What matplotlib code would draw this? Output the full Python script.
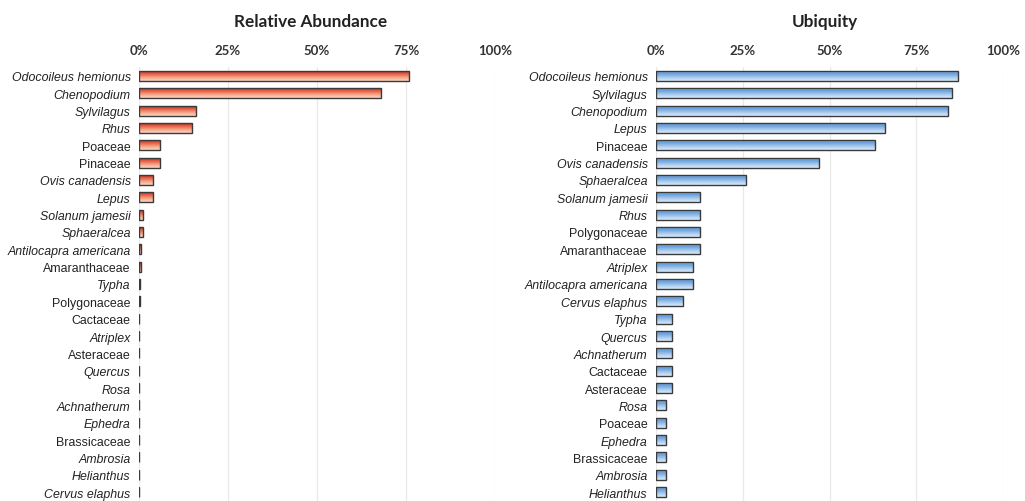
import numpy as np
import matplotlib
matplotlib.use("Agg")
import matplotlib.pyplot as plt
from matplotlib.colors import LinearSegmentedColormap

# relative abundance (%)
ab_names = ["Odocoileus hemionus", "Chenopodium", "Sylvilagus", "Rhus", "Poaceae",
            "Pinaceae", "Ovis canadensis", "Lepus", "Solanum jamesii", "Sphaeralcea",
            "Antilocapra americana", "Amaranthaceae", "Typha", "Polygonaceae", "Cactaceae",
            "Atriplex", "Asteraceae", "Quercus", "Rosa", "Achnatherum", "Ephedra",
            "Brassicaceae", "Ambrosia", "Helianthus", "Cervus elaphus"]
ab_vals = [75.9, 68.0, 16.0, 14.9, 5.9, 5.9, 3.8, 3.8, 1.0, 1.0, 0.5, 0.5, 0.3, 0.3,
           0.1, 0.1, 0.1, 0.1, 0.1, 0.1, 0.1, 0.1, 0.1, 0.1, 0.1]

# ubiquity (%)
ub_names = ["Odocoileus hemionus", "Sylvilagus", "Chenopodium", "Lepus", "Pinaceae",
            "Ovis canadensis", "Sphaeralcea", "Solanum jamesii", "Rhus", "Polygonaceae",
            "Amaranthaceae", "Atriplex", "Antilocapra americana", "Cervus elaphus", "Typha",
            "Quercus", "Achnatherum", "Cactaceae", "Asteraceae", "Rosa", "Poaceae",
            "Ephedra", "Brassicaceae", "Ambrosia", "Helianthus"]
ub_vals = [87.0, 85.2, 84.1, 66.1, 63.1, 47.0, 26.0, 12.8, 12.8, 12.8, 12.8, 10.7, 10.7,
           7.8, 4.7, 4.7, 4.7, 4.7, 4.7, 2.9, 2.9, 2.9, 2.9, 2.9, 2.9]

ticks = [0, 25, 50, 75, 100]
tick_labels = ["0%", "25%", "50%", "75%", "100%"]

red_cmap = LinearSegmentedColormap.from_list("r", ["#a82216", "#e55a44", "#f4a384", "#fbd6c4"])
blue_cmap = LinearSegmentedColormap.from_list("b", ["#86b5e6", "#6aa2dd", "#a9cbee", "#dcebfa"])

W, H = 1025, 502
fig = plt.figure(figsize=(W / 100, H / 100), dpi=100)


def panel(rect, names, vals, cmap, title, title_x):
    ax = fig.add_axes(rect)
    y = np.arange(len(names))
    bars = ax.barh(y, vals, height=0.58, color="none", edgecolor="#3a3a3a",
                   linewidth=1.0, zorder=3)
    grad = np.linspace(0, 1, 64).reshape(-1, 1)
    for b in bars:
        x0, y0 = b.get_x(), b.get_y()
        w, h = b.get_width(), b.get_height()
        im = ax.imshow(grad, cmap=cmap, aspect="auto", extent=(x0, x0 + w, y0 + h, y0),
                       zorder=2, interpolation="bilinear")
        im.set_clip_path(b)
    ax.set_xlim(0, 100)
    ax.set_ylim(len(names) - 0.5, -0.5)
    ax.set_xticks(ticks)
    ax.set_xticklabels(tick_labels, family="Lato", fontweight="bold", fontsize=9.5,
                       color="#333333")
    ax.xaxis.tick_top()
    ax.tick_params(axis="x", length=0, pad=8)
    ax.set_yticks(y)
    ax.set_yticklabels(names, family="Liberation Sans", fontsize=8.9, color="#222222")
    for lab in ax.get_yticklabels():
        if not lab.get_text().endswith("aceae"):
            lab.set_style("italic")
    ax.tick_params(axis="y", length=0, pad=6)
    ax.grid(axis="x", color="#e9e9e9", linewidth=0.9, zorder=0)
    for s in ax.spines.values():
        s.set_visible(False)
    fig.text(title_x, 1 - 22 / H, title, family="Lato", fontweight="bold", fontsize=12.3,
             ha="center", va="center", color="#222222")
    return ax


# rows from 77 px down to 493 px in both panels
top, bot = 77 - 8.67, 493 + 8.67
panel([139 / W, 1 - bot / H, 356 / W, (bot - top) / H], ab_names, ab_vals,
      red_cmap, "Relative Abundance", 311 / W)
panel([656 / W, 1 - bot / H, 347 / W, (bot - top) / H], ub_names, ub_vals,
      blue_cmap, "Ubiquity", 825 / W)

fig.savefig("out.png", dpi=100)
